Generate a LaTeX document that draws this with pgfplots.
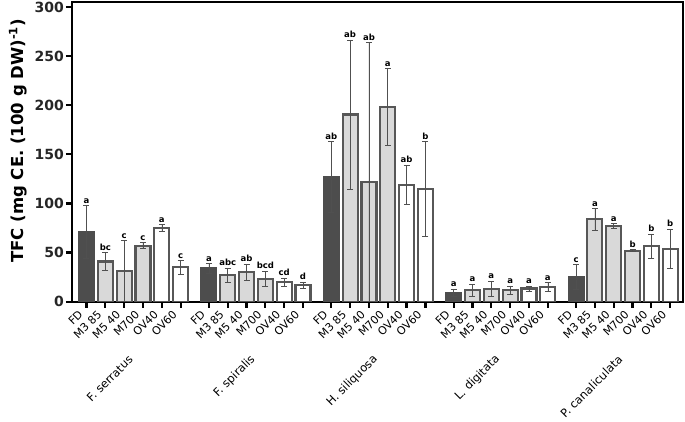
\documentclass[border=0pt]{standalone}
\usepackage{fontspec}
\setmainfont{DejaVu Sans}
\usepackage{pgfplots}
\usepackage{pgfplotstable}
\pgfplotsset{compat=1.18}
\definecolor{darkbar}{HTML}{4D4D4D}
\definecolor{edge}{HTML}{575757}
\definecolor{lightbar}{HTML}{D9D9D9}
\definecolor{errc}{HTML}{505050}

\pgfplotstableread{
x y e lab
0 71 27 a
6.5 34 5 a
13 127 36 ab
19.5 9 4 a
26 25.5 12.5 c
}\tabFD

\pgfplotstableread{
x y e lab
1 41 9 bc
2 31 31 c
3 57 3 c
7.5 27 7 abc
8.5 30 8.5 ab
9.5 23.5 7.5 bcd
14 190.5 76 ab
15 122 141.7 ab
16 198.5 39 a
20.5 12 6 a
21.5 13 8 a
22.5 12 4 a
27 84 11 a
28 77 2.5 a
29 52 1 b
}\tabM

\pgfplotstableread{
x y e lab
4 75 3.5 a
5 35 7 c
10.5 20 4 cd
11.5 17 3 d
17 119 20 ab
18 115 48 b
23.5 13.5 2.5 a
24.5 15 4.5 a
30 56.5 12.5 b
31 54 20 b
}\tabOV

\begin{document}
\begin{tikzpicture}
\begin{axis}[
  name=ax,
  scale only axis,
  width=611pt, height=299.7pt,
  xmin=-0.77, xmax=31.68,
  ymin=0, ymax=305,
  clip mode=individual,
  axis line style={line width=2.2pt, black},
  ytick={0,50,100,150,200,250,300},
  xtick={0,1,2,3,4,5,6.5,7.5,8.5,9.5,10.5,11.5,13,14,15,16,17,18,19.5,20.5,21.5,22.5,23.5,24.5,26,27,28,29,30,31},
  xticklabels={FD,M3 85,M5 40,M700,OV40,OV60,FD,M3 85,M5 40,M700,OV40,OV60,FD,M3 85,M5 40,M700,OV40,OV60,FD,M3 85,M5 40,M700,OV40,OV60,FD,M3 85,M5 40,M700,OV40,OV60},
  tick align=outside,
  major tick length=6pt,
  every tick/.style={line width=2.2pt, black},
  xtick pos=bottom, ytick pos=left,
  /pgf/number format/assume math mode=true,
  yticklabel style={font=\fontsize{14}{16}\selectfont\bfseries, color=black!85, inner sep=2pt},
  xticklabel style={font=\fontsize{11}{12}\selectfont, xshift=-5pt, yshift=-4pt, rotate=45, anchor=east, inner sep=1pt},
  ylabel={TFC (mg CE. (100 g DW)\textsuperscript{-1})},
  every axis y label/.style={at={(axis description cs:0,0.5)}, rotate=90, anchor=center, yshift=54pt, xshift=11pt, font=\fontsize{16.5}{18}\selectfont\bfseries},
  error bars/error bar style={line width=0.6pt, errc},
  error bars/error mark options={rotate=90, mark size=3pt, line width=0.6pt, errc},
  nodes near coords style={font=\fontsize{8.5}{9}\selectfont\bfseries, anchor=south, inner sep=2pt},
]
\addplot[ybar, bar width=15pt, bar shift=0pt, fill=darkbar, draw=darkbar, line width=2pt,
  error bars/.cd, y dir=both, y explicit]
  table[x=x, y=y, y error=e]{\tabFD};
\addplot[ybar, bar width=15pt, bar shift=0pt, fill=lightbar, draw=edge, line width=2.2pt,
  error bars/.cd, y dir=both, y explicit]
  table[x=x, y=y, y error=e]{\tabM};
\addplot[ybar, bar width=15pt, bar shift=0pt, fill=white, draw=edge, line width=2.2pt,
  error bars/.cd, y dir=both, y explicit]
  table[x=x, y=y, y error=e]{\tabOV};
\addplot[draw=none, mark=none, nodes near coords, point meta=explicit symbolic]
  table[x=x, y expr=\thisrow{y}+\thisrow{e}, meta=lab]{\tabFD};
\addplot[draw=none, mark=none, nodes near coords, point meta=explicit symbolic]
  table[x=x, y expr=\thisrow{y}+\thisrow{e}, meta=lab]{\tabM};
\addplot[draw=none, mark=none, nodes near coords, point meta=explicit symbolic]
  table[x=x, y expr=\thisrow{y}+\thisrow{e}, meta=lab]{\tabOV};
\foreach \c/\n in {2.5/F. serratus, 9/F. spiralis, 15.5/H. siliquosa, 22/L. digitata, 28.5/P. canaliculata}{
  \edef\tmp{\noexpand\node[rotate=45, anchor=east, inner sep=1pt, font=\noexpand\fontsize{11.5}{13}\noexpand\selectfont] at ([xshift=-2pt,yshift=-55pt]axis cs:\c,0) {\n};}
  \tmp
}
\end{axis}
\pgfresetboundingbox
\path[use as bounding box] ([xshift=-72pt,yshift=2pt]ax.north west) rectangle ([xshift=2pt,yshift=-120.3pt]ax.south east);
\end{tikzpicture}
\end{document}
